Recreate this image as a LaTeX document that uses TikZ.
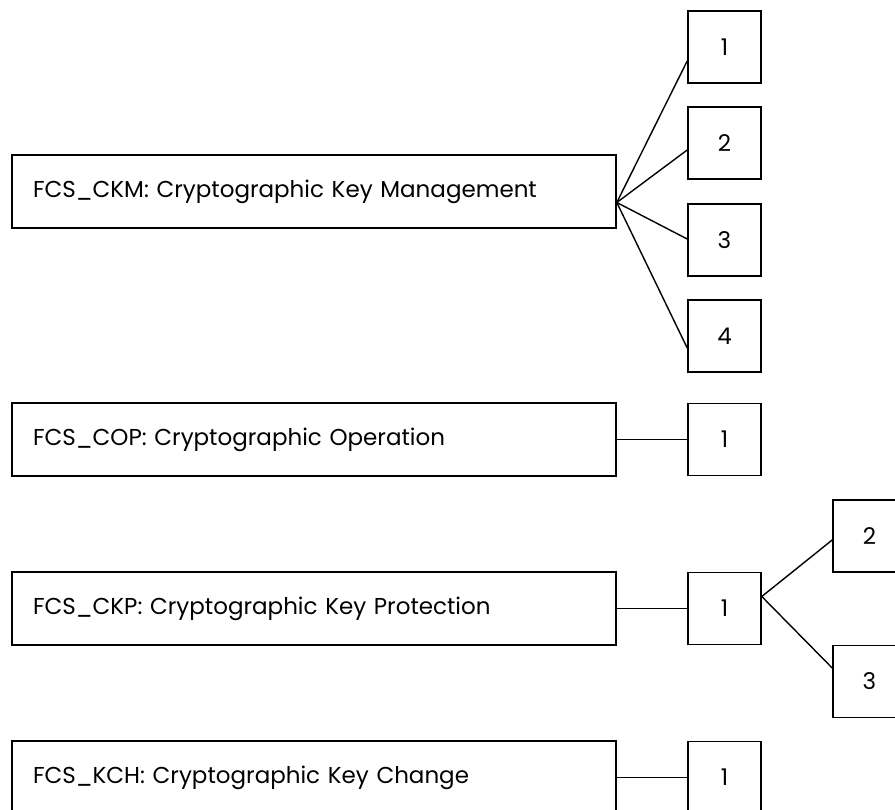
\documentclass[tikz,border=0pt]{standalone}
\usepackage{fontspec}
\setmainfont{Poppins}
\begin{document}
\begin{tikzpicture}[x=1pt, y=-1pt,
    family/.style={draw, line width=1.6pt, inner xsep=21pt, inner ysep=0pt,
      text width=562pt, minimum height=73pt, align=left,
      font=\fontsize{23}{26}\selectfont},
    comp/.style={draw, line width=1.6pt, inner sep=0pt, minimum width=73pt,
      minimum height=72pt, font=\fontsize{23}{26}\selectfont},
    link/.style={line width=1.4pt}]
    \useasboundingbox (0,0) rectangle (895,810);
    \clip (0,0) rectangle (895,810);
    % families
    \node[family] (ckm) at (314,191.5) {FCS\_CKM: Cryptographic Key Management};
    \node[family] (cop) at (314,439.5) {FCS\_COP: Cryptographic Operation};
    \node[family] (ckp) at (314,608.5) {FCS\_CKP: Cryptographic Key Protection};
    \node[family] (kch) at (314,777.5) {FCS\_KCH: Cryptographic Key Change};
    % components
    \node[comp] (ckm1) at (724.5,47) {1};
    \node[comp] (ckm2) at (724.5,143) {2};
    \node[comp] (ckm3) at (724.5,240) {3};
    \node[comp] (ckm4) at (724.5,336) {4};
    \node[comp] (cop1) at (724.5,439.5) {1};
    \node[comp] (ckp1) at (724.5,608.5) {1};
    \node[comp] (ckp2) at (869.5,536) {2};
    \node[comp] (ckp3) at (869.5,681.5) {3};
    \node[comp] (kch1) at (724.5,777.5) {1};
    % links
    \draw[link] ([yshift=-11pt]ckm.east) -- ([yshift=-14pt]ckm1.west);
    \draw[link] ([yshift=-11pt]ckm.east) -- ([yshift=-7pt]ckm2.west);
    \draw[link] ([yshift=-11pt]ckm.east) -- ([yshift=1pt]ckm3.west);
    \draw[link] ([yshift=-11pt]ckm.east) -- ([yshift=-12pt]ckm4.west);
    \draw[link] (cop) -- (cop1);
    \draw[link] (ckp) -- (ckp1);
    \draw[link] ([yshift=12pt]ckp1.east) -- ([yshift=-4pt]ckp2.west);
    \draw[link] ([yshift=12pt]ckp1.east) -- ([yshift=13.5pt]ckp3.west);
    \draw[link] (kch) -- (kch1);
\end{tikzpicture}
\end{document}
